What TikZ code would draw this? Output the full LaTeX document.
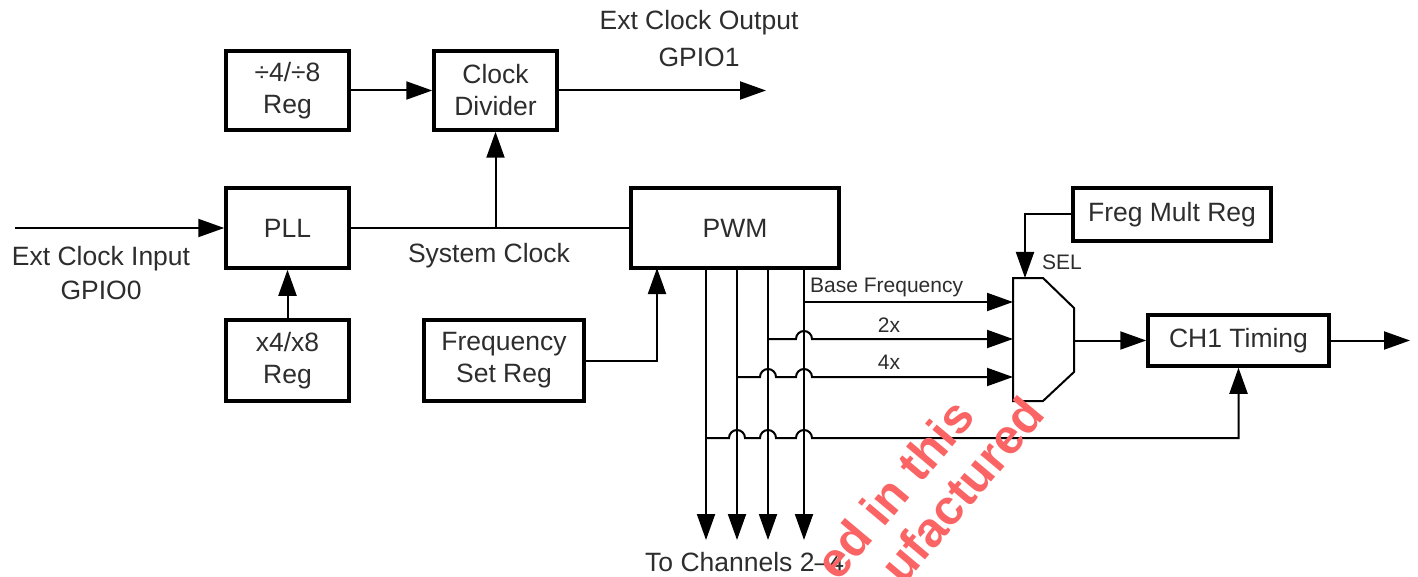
\documentclass[tikz,border=0pt]{standalone}
\usepackage{fontspec}
\setmainfont{Liberation Sans}
\usetikzlibrary{arrows.meta}
\definecolor{txt}{RGB}{45,45,45}
\definecolor{wm}{RGB}{250,100,100}
\begin{document}
\begin{tikzpicture}[x=1pt,y=1pt,
  box/.style={draw=black, line width=3.5pt, inner sep=0pt, align=center, text=txt,
    font=\fontsize{26.5}{32}\selectfont},
  lbl/.style={inner sep=0pt, text=txt, font=\fontsize{26.5}{32}\selectfont},
  slbl/.style={inner sep=0pt, text=txt, font=\fontsize{21}{25}\selectfont},
  wire/.style={line width=2pt},
  conn/.style={line width=2pt, -{Triangle[length=26pt,width=18pt]}},
  muxline/.style={line width=2pt, line join=miter},
  wmark/.style={inner sep=0pt, rotate=50, text=wm, font=\fontsize{49}{54}\selectfont\bfseries},
]
\useasboundingbox (0,0) rectangle (1418,-577);
\clip (0,0) rectangle (1418,-577);

% boxes
\node[box, minimum width=123pt, minimum height=79pt] (reg48) at (287.5,-90.5) {÷4/÷8\\Reg};
\node[box, minimum width=123pt, minimum height=79pt] (clkdiv) at (495.5,-90.5) {Clock\\Divider};
\node[box, minimum width=123pt, minimum height=80pt] (pll) at (287.5,-228) {PLL};
\node[box, minimum width=123pt, minimum height=81pt] (xreg) at (287.5,-360.5) {x4/x8\\Reg};
\node[box, minimum width=160pt, minimum height=81pt] (fsreg) at (504,-360.5) {Frequency\\Set Reg};
\node[box, minimum width=208pt, minimum height=80pt] (pwm) at (735,-228) {PWM};
\node[box, minimum width=198pt, minimum height=53pt] (fmr) at (1172,-214.5) {Freg Mult Reg};
\node[box, minimum width=181pt, minimum height=51pt] (ch1) at (1238.5,-340.5) {CH1 Timing};

% multiplexer
\coordinate (mtl) at (1013,-278);
\coordinate (mtr) at (1043,-278);
\coordinate (mr1) at (1074,-308);
\coordinate (mr2) at (1074,-372);
\coordinate (mbr) at (1043,-401);
\coordinate (mbl) at (1013,-401);
\draw[muxline] (mtl) -- (mtr) -- (mr1) -- (mr2) -- (mbr) -- (mbl) -- cycle;
\coordinate (muxtop) at (1025,-278);
\coordinate (muxout) at (1074,-340.5);
\coordinate (in1) at (1013,-302);
\coordinate (in2) at (1013,-339);
\coordinate (in3) at (1013,-377);

% free ends
\coordinate (extin) at (15,-228);
\coordinate (extout) at (766,-90.5);
\coordinate (pwmin) at (657,-268);
\coordinate (chout) at (1410,-340.5);
\coordinate (o1) at (706,-540);
\coordinate (o2) at (737,-540);
\coordinate (o3) at (768,-540);
\coordinate (o4) at (804,-540);

% top connectors
\draw[conn] (reg48.east) -- (clkdiv.west);
\draw[conn] (clkdiv.east) -- (extout);
\draw[conn] (extin) -- (pll.west);
\draw[wire] (pll.east) -- (pwm.west);
\draw[conn] (pll.east -| clkdiv.south) -- (clkdiv.south);
\draw[conn] (xreg.north) -- (pll.south);
\draw[conn] (fsreg.east) -| (pwmin);

% PWM outputs
\draw[conn] (706,-268) -- (o1);
\draw[conn] (737,-268) -- (o2);
\draw[conn] (768,-268) -- (o3);
\draw[conn] (804,-268) -- (o4);

\draw[conn] (804,-302) -- (in1);
\draw[conn] (768,-339) -- (796,-339) arc[start angle=180,end angle=0,radius=8pt] -- (in2);
\draw[conn] (737,-377) -- (760,-377) arc[start angle=180,end angle=0,radius=8pt]
  -- (796,-377) arc[start angle=180,end angle=0,radius=8pt] -- (in3);
\draw[conn] (706,-438) -- (729,-438) arc[start angle=180,end angle=0,radius=8pt]
  -- (760,-438) arc[start angle=180,end angle=0,radius=8pt]
  -- (796,-438) arc[start angle=180,end angle=0,radius=8pt] -| (ch1.south);

\draw[conn] (fmr.west) -| (muxtop);
\draw[conn] (muxout) -- (ch1.west);
\draw[conn] (ch1.east) -- (chout);

% labels
\node[lbl] (lout1) at (699,-23) {Ext Clock Output};
\node[lbl] (lout2) at (699,-57) {GPIO1};
\node[lbl] (lin1) at (101,-259) {Ext Clock Input};
\node[lbl] (lin2) at (101,-290) {GPIO0};
\node[lbl] (lsys) at (489,-256) {System Clock};
\node[slbl, anchor=west] (lbase) at (810,-287) {Base Frequency};
\node[slbl] (l2x) at (889,-325) {2x};
\node[slbl] (l4x) at (889,-362) {4x};
\node[slbl, anchor=west] (lsel) at (1042,-262) {SEL};
\node[lbl, anchor=west] (lch) at (645,-562) {To Channels 2–4};

% watermark
\node[wmark] (wm1) at (894,-489) {ed in this};
\node[wmark] (wm2) at (962,-490) {ufactured};
\end{tikzpicture}
\end{document}
